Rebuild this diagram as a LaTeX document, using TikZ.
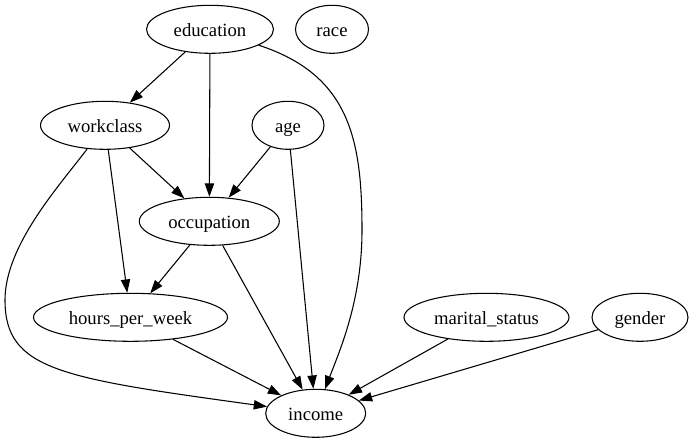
\documentclass[tikz,border=0pt]{standalone}
\usepackage{fontspec}
\setmainfont{Liberation Serif}
\usetikzlibrary{arrows.meta,shapes.geometric}
\tikzset{
  gvnode/.style={draw, ellipse, inner sep=0pt, minimum height=36pt, line width=0.8pt, text height=14pt, text depth=3pt, font=\fontsize{14pt}{16pt}\selectfont},
  gvedge/.style={line width=0.8pt, -{Triangle[length=10pt,width=7pt]}},
}
\begin{document}
\begin{tikzpicture}[x=0.75pt,y=-0.75pt]
\useasboundingbox (0,0) rectangle (693,443);
\node[gvnode, minimum width=95.25pt] (edu) at (210,29.3) {education};
\node[gvnode, minimum width=54.75pt] (race) at (332,29.3) {race};
\node[gvnode, minimum width=96.75pt] (work) at (105,125.3) {workclass};
\node[gvnode, minimum width=54pt] (age) at (288,125.3) {age};
\node[gvnode, minimum width=105pt] (occ) at (209.3,221.3) {occupation};
\node[gvnode, minimum width=145.5pt] (hpw) at (130.5,317.3) {hours\_per\_week};
\node[gvnode, minimum width=123.75pt] (mar) at (486.5,317.3) {marital\_status};
\node[gvnode, minimum width=72pt] (gen) at (640,317.3) {gender};
\node[gvnode, minimum width=75pt] (inc) at (315.7,413.3) {income};

\draw[gvedge] (edu) -- (work);
\draw[gvedge] (edu) -- (occ);
\draw[gvedge] (edu) .. controls (350,75) and (362,140) .. (362,230) .. controls (362,300) and (340,350) .. (inc);
\draw[gvedge] (work) -- (occ);
\draw[gvedge] (work) -- (hpw);
\draw[gvedge] (work) .. controls (60,185) and (5,245) .. (5,300) .. controls (5,370) and (60,378) .. (inc);
\draw[gvedge] (age) -- (occ);
\draw[gvedge] (age) -- (inc);
\draw[gvedge] (occ) -- (hpw);
\draw[gvedge] (occ) -- (inc);
\draw[gvedge] (hpw) -- (inc);
\draw[gvedge] (mar) -- (inc);
\draw[gvedge] (gen) -- (inc);
\end{tikzpicture}
\end{document}
